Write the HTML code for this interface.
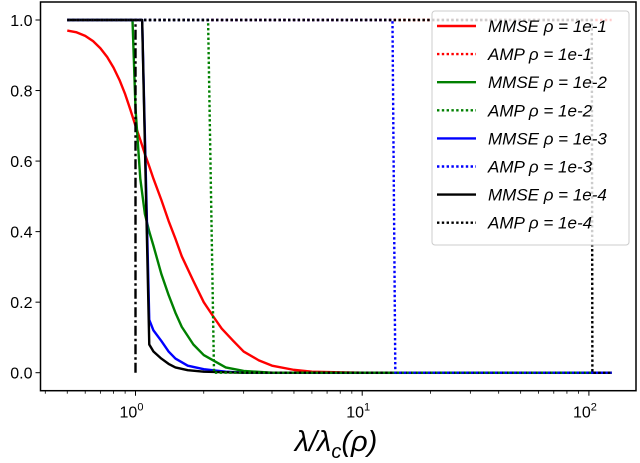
<!DOCTYPE html>
<html><head><meta charset="utf-8"><style>
html,body{margin:0;padding:0;background:#fff;}
svg{display:block;font-family:"Liberation Sans","DejaVu Sans",sans-serif;}
</style></head><body>
<svg id="chart" width="640" height="463" xmlns="http://www.w3.org/2000/svg">
<g id="plot"></g>
<g id="axes"></g>
<g id="legend"></g>
</svg>
<script>
const xTicks = [1, 10, 100];
const xTickLabels = ["0", "1", "2"];
const yTicks = [0, 0.2, 0.4, 0.6, 0.8, 1.0];
const yTickLabels = ["0.0", "0.2", "0.4", "0.6", "0.8", "1.0"];
const seriesNames = ["MMSE ρ = 1e-1","AMP ρ = 1e-1","MMSE ρ = 1e-2","AMP ρ = 1e-2","MMSE ρ = 1e-3","AMP ρ = 1e-3","MMSE ρ = 1e-4","AMP ρ = 1e-4"];
const mmse1X = [0.5,0.55,0.6,0.65,0.7,0.75,0.8,0.85,0.9,0.95,1.0,1.05,1.1,1.15,1.2,1.3,1.4,1.5,1.6,1.8,2.0,2.2,2.4,2.7,3,3.5,4,5,6,8,10,126];
const mmse1Y = [0.97,0.965,0.955,0.94,0.92,0.895,0.865,0.83,0.79,0.745,0.70,0.66,0.62,0.585,0.55,0.49,0.43,0.38,0.33,0.26,0.20,0.16,0.125,0.09,0.06,0.035,0.02,0.008,0.003,0.001,0,0];
const mmse2X = [0.5,0.97,1.0,1.05,1.1,1.15,1.2,1.3,1.4,1.5,1.6,1.8,2.0,2.5,3,4,126];
const mmse2Y = [1,1,0.75,0.55,0.45,0.40,0.36,0.28,0.22,0.17,0.13,0.08,0.05,0.015,0.005,0,0];
const mmse3X = [0.5,1.07,1.15,1.2,1.3,1.4,1.5,1.7,2,2.5,3,126];
const mmse3Y = [1,1,0.15,0.12,0.09,0.06,0.04,0.02,0.01,0.003,0,0];
const mmse4X = [0.5,1.07,1.15,1.2,1.3,1.4,1.5,1.7,2,3,126];
const mmse4Y = [1,1,0.08,0.06,0.04,0.025,0.015,0.007,0.003,0,0];
const amp1X = [0.5,126];
const amp1Y = [1,1];
const amp2X = [0.5,2.09,2.22,126];
const amp2Y = [1,1,0,0];
const amp3X = [0.5,13.6,14.0,126];
const amp3Y = [1,1,0,0];
const amp4X = [0.5,103,103.6,126];
const amp4Y = [1,1,0,0];
const thrX = [1,1];
const thrY = [0,1];

const L=40.5,R=636,T=2,B=390.7;
const xs=v=>135.5+Math.log10(v)*226.7;
const ys=v=>372.7-v*352.7;
const NS="http://www.w3.org/2000/svg";
function mk(tag,attrs,parent){const e=document.createElementNS(NS,tag);for(const k in attrs)e.setAttribute(k,attrs[k]);parent.appendChild(e);return e;}
const plot=document.getElementById('plot'),axes=document.getElementById('axes'),leg=document.getElementById('legend');
function line(X,Y,color,dash,name,w){
  const d=X.map((x,i)=>(i?'L':'M')+xs(x).toFixed(2)+' '+ys(Y[i]).toFixed(2)).join(' ');
  const p=mk('path',{d:d,fill:'none',stroke:color,'stroke-width':w||2.4,'stroke-dasharray':dash||'none','stroke-linejoin':'round'},plot);
  
  
}
const cols=["#ff0000","#008000","#0000ff","#000000"];
line(mmse1X,mmse1Y,cols[0],null,'mmse-rho-1e-1-line');
line(mmse2X,mmse2Y,cols[1],null,'mmse-rho-1e-2-line');
line(mmse3X,mmse3Y,cols[2],null,'mmse-rho-1e-3-line');
line(mmse4X,mmse4Y,cols[3],null,'mmse-rho-1e-4-line');
line(amp1X,amp1Y,cols[0],'2.4 2.4','amp-rho-1e-1-line');
line(amp2X,amp2Y,cols[1],'2.4 2.4','amp-rho-1e-2-line');
line(amp3X,amp3Y,cols[2],'2.4 2.4','amp-rho-1e-3-line');
line(amp4X,amp4Y,cols[3],'2.4 2.4','amp-rho-1e-4-line');
line(thrX,thrY,'#000','10 3 2.5 3','threshold-dashdot-line');

const fr=mk('rect',{x:L,y:T,width:R-L,height:B-T,fill:'none',stroke:'#000','stroke-width':1.5},axes);


yTicks.forEach((v,i)=>{
  mk('line',{x1:L-5,x2:L,y1:ys(v),y2:ys(v),stroke:'#000'},axes);
  const t=mk('text',{x:L-8,y:ys(v)+6,'text-anchor':'end','font-size':16},axes);
  t.textContent=yTickLabels[i];
  
  
});
xTicks.forEach((v,i)=>{
  mk('line',{x1:xs(v),x2:xs(v),y1:B,y2:B+5,stroke:'#000'},axes);
  const t=mk('text',{x:xs(v)-4,y:B+27,'text-anchor':'middle','font-size':16},axes);
  t.textContent='10';
  const s=mk('tspan',{dy:-7,'font-size':11},t);s.textContent=xTickLabels[i];
  
  
});
for(let d=-1;d<=2;d++)for(let m=2;m<=9;m++){const v=m*Math.pow(10,d);if(v<0.35||v>140)continue;
  const x=xs(v);if(x<L||x>R)continue;mk('line',{x1:x,x2:x,y1:B,y2:B+3,stroke:'#000','stroke-width':0.8},axes);}
const xl=mk('text',{x:336,y:451,'text-anchor':'middle','font-size':29,'font-style':'italic'},axes);
xl.innerHTML='λ/λ<tspan font-size="20" dy="7">c</tspan><tspan dy="-7">(ρ)</tspan>';



const lb=mk('rect',{x:432,y:11,width:197,height:234,rx:3,fill:'rgba(255,255,255,0.8)',stroke:'#ccc'},leg);


seriesNames.forEach((n,i)=>{
  const y=26+i*28.1;
  const g=mk('g',{},leg);
  
  
  mk('line',{x1:437,x2:476,y1:y,y2:y,stroke:cols[i>>1],'stroke-width':2.4,'stroke-dasharray':i%2?'2.4 2.4':'none'},g);
  const t=mk('text',{x:488,y:y+6,'font-size':17,'font-style':'italic'},g);
  t.textContent=n;
});
</script>
</body></html>
